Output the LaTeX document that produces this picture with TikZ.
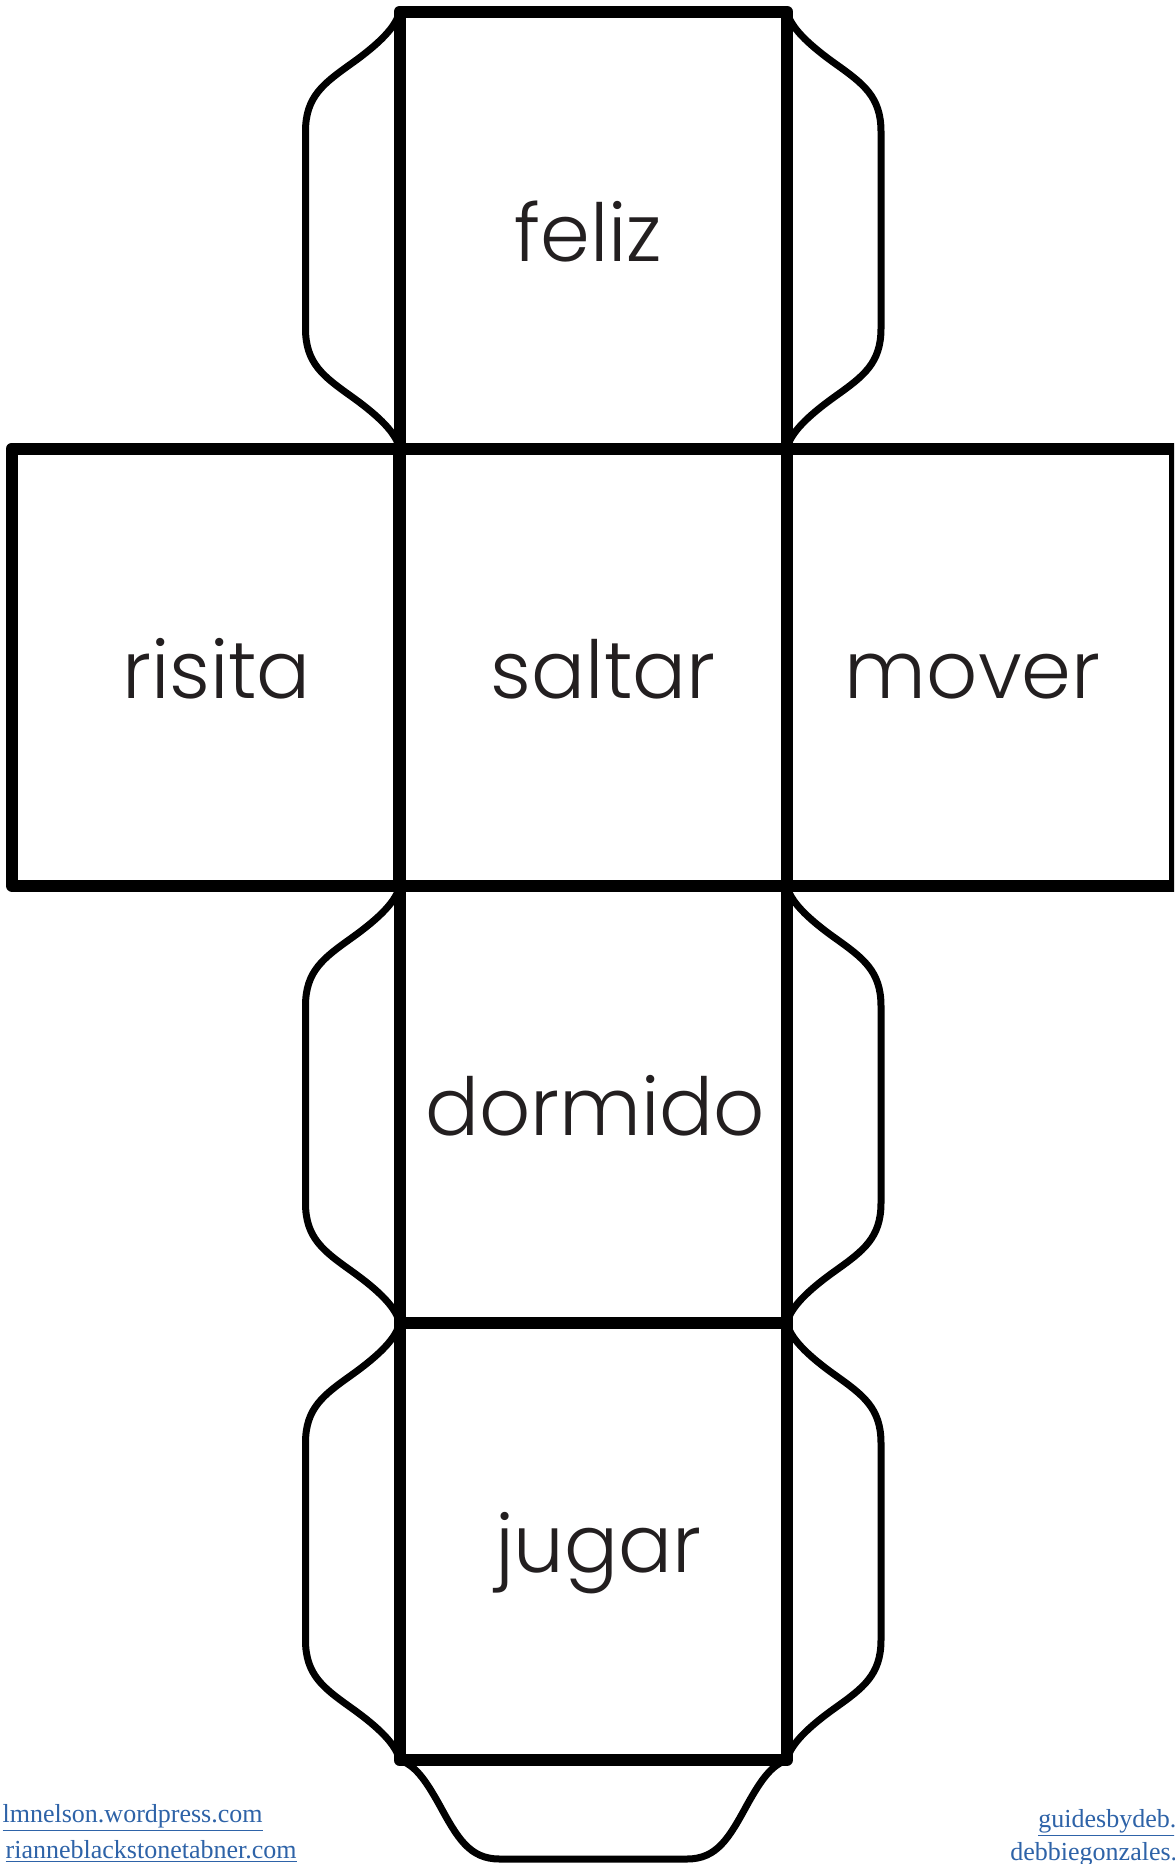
\documentclass[tikz,border=0pt]{standalone}
\usepackage{fontspec}
\newfontfamily\facefont{Poppins}[UprightFont=* Light]
\newfontfamily\linkfont{Liberation Serif}
\definecolor{linkblue}{HTML}{2E63A8}
\definecolor{textdark}{HTML}{231F20}
\newcommand\sidetabs[1]{%
  \begin{scope}[shift={(#1.north west)}]
    \draw[tab] (0,0) .. controls (-3,15) and (-20,32) .. (-48,52)
      .. controls (-76,72) and (-94,85) .. (-94,120) -- (-94,317)
      .. controls (-94,352) and (-76,365) .. (-48,385)
      .. controls (-20,405) and (-3,422) .. (0,437);
  \end{scope}
  \begin{scope}[shift={(#1.north east)},xscale=-1]
    \draw[tab] (0,0) .. controls (-3,15) and (-20,32) .. (-48,52)
      .. controls (-76,72) and (-94,85) .. (-94,120) -- (-94,317)
      .. controls (-94,352) and (-76,365) .. (-48,385)
      .. controls (-20,405) and (-3,422) .. (0,437);
  \end{scope}}
\begin{document}
\begin{tikzpicture}[x=0.5pt,y=-0.5pt,
  face/.style={draw=black, line width=6pt, line join=round,
    minimum width=193.75pt, minimum height=218.5pt, inner sep=0pt, outer sep=0pt,
    text height=31pt, text depth=0pt, text=textdark,
    font=\facefont\fontsize{40}{40}\selectfont},
  tab/.style={draw=black, line width=3.5pt, line join=round, line cap=round},
  link/.style={font=\linkfont\fontsize{13}{13}\selectfont, text=linkblue, inner sep=0pt}]
\clip (0,0) rectangle (1174,1864);
\fill[white] (0,0) rectangle (1174,1864);

\node[face] (feliz)   at (593.25,230)   {feliz\hspace*{5pt}};
\node[face] (risita)  at (205.5,667)    {\hspace*{11pt}risita};
\node[face] (saltar)  at (593.25,667)   {\hspace*{10pt}saltar};
\node[face] (mover)   at (980.75,667)   {mover\hspace*{8pt}};
\node[face] (dormido) at (593.25,1104.5) {\hspace*{2pt}dormido};
\node[face] (jugar)   at (593.25,1541.5) {\hspace*{5pt}jugar};

\sidetabs{feliz}
\sidetabs{dormido}
\sidetabs{jugar}
\begin{scope}[shift={(jugar.south west)}]
  \draw[tab] (0,0) .. controls (15,5) and (25,18) .. (40,45)
    .. controls (58,78) and (70,99) .. (100,99) -- (287.5,99)
    .. controls (317.5,99) and (329.5,78) .. (347.5,45)
    .. controls (362.5,18) and (372.5,5) .. (387.5,0);
\end{scope}

\node[link, anchor=base east] (l1) at (263,1822) {\underline{lmnelson.wordpress.com}};
\node[link, anchor=base east] (l2) at (297,1858) {\underline{rianneblackstonetabner.com}};
\node[link, anchor=base west] (r1) at (1038,1827) {\underline{guidesbydeb.}};
\node[link, anchor=base west] (r2) at (1010,1860) {\underline{debbiegonzales.}};
\end{tikzpicture}
\end{document}
